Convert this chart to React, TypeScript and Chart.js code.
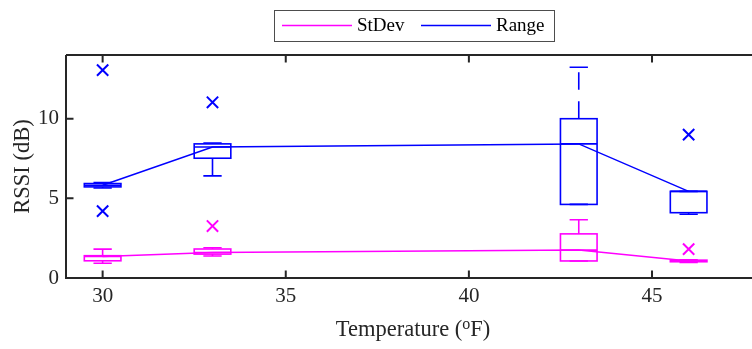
import React, { useEffect, useRef } from "react";
import { Chart, registerables } from "chart.js";

Chart.register(...registerables);

// ---- data ----
const temperatures = [30, 33, 43, 46];
const xTicks = [30, 35, 40, 45];
const yTicks = [0, 5, 10];

const stdevWhiskerLow = [0.93, 1.38, 1.07, 0.98];
const stdevQ1 = [1.08, 1.5, 1.07, 1.02];
const stdevMedian = [1.35, 1.6, 1.75, 1.06];
const stdevQ3 = [1.4, 1.82, 2.77, 1.12];
const stdevWhiskerHigh = [1.81, 1.9, 3.66, 1.15];
const stdevOutlierX = [33, 46];
const stdevOutlierY = [3.26, 1.81];

const rangeWhiskerLow = [5.65, 6.41, 4.62, 4.0];
const rangeQ1 = [5.72, 7.52, 4.62, 4.1];
const rangeMedian = [5.82, 8.22, 8.42, 5.44];
const rangeQ3 = [5.93, 8.42, 10.0, 5.44];
const rangeWhiskerHigh = [6.0, 8.48, 13.23, 5.44];
const rangeOutlierX = [30, 30, 33, 46];
const rangeOutlierY = [13.05, 4.2, 11.03, 9.0];

const seriesNames = ["StDev", "Range"];
const xTitleParts = ["Temperature (", "o", "F)"];
const yTitle = "RSSI (dB)";
const MAGENTA = "#ff00ff";
const BLUE = "#0000ff";
const AXIS = "#262626";
const FONT = "'Liberation Serif', 'Times New Roman', serif";

const boxSeries = [
  { color: MAGENTA, wl: stdevWhiskerLow, q1: stdevQ1, med: stdevMedian, q3: stdevQ3, wh: stdevWhiskerHigh },
  { color: BLUE, wl: rangeWhiskerLow, q1: rangeQ1, med: rangeMedian, q3: rangeQ3, wh: rangeWhiskerHigh },
];

const boxPlugin = {
  id: "boxes",
  beforeDatasetsDraw(chart: any) {
    const { ctx, scales } = chart;
    const xs = scales.x;
    const ys = scales.y;
    ctx.save();
    for (const s of boxSeries) {
      ctx.strokeStyle = s.color;
      ctx.lineWidth = 1.6;
      temperatures.forEach((t, i) => {
        const x = xs.getPixelForValue(t);
        const xl = xs.getPixelForValue(t - 0.5);
        const xr = xs.getPixelForValue(t + 0.5);
        const cl = xs.getPixelForValue(t - 0.25);
        const cr = xs.getPixelForValue(t + 0.25);
        const yq1 = ys.getPixelForValue(s.q1[i]);
        const yq3 = ys.getPixelForValue(s.q3[i]);
        const ym = ys.getPixelForValue(s.med[i]);
        const ywl = ys.getPixelForValue(s.wl[i]);
        const ywh = ys.getPixelForValue(s.wh[i]);
        ctx.setLineDash([]);
        ctx.strokeRect(xl, yq3, xr - xl, yq1 - yq3);
        ctx.beginPath();
        ctx.moveTo(xl, ym);
        ctx.lineTo(xr, ym);
        ctx.stroke();
        // whiskers (dashed, from box outward)
        ctx.setLineDash([17.5, 11.5]);
        ctx.beginPath();
        ctx.moveTo(x, yq3);
        ctx.lineTo(x, ywh);
        ctx.moveTo(x, yq1);
        ctx.lineTo(x, ywl);
        ctx.stroke();
        ctx.setLineDash([]);
        ctx.beginPath();
        ctx.moveTo(cl, ywh);
        ctx.lineTo(cr, ywh);
        ctx.moveTo(cl, ywl);
        ctx.lineTo(cr, ywl);
        ctx.stroke();
      });
    }
    ctx.restore();
  },
};

const framePlugin = {
  id: "frame",
  afterDraw(chart: any) {
    const { ctx, chartArea, scales } = chart;
    const { left, right, top, bottom } = chartArea;
    ctx.save();
    ctx.strokeStyle = AXIS;
    ctx.lineWidth = 2;
    ctx.beginPath();
    ctx.moveTo(left, top);
    ctx.lineTo(left, bottom);
    ctx.lineTo(right, bottom);
    ctx.moveTo(left, top);
    ctx.lineTo(right, top);
    const tl = 7.5;
    for (const v of xTicks) {
      const px = scales.x.getPixelForValue(v);
      ctx.moveTo(px, bottom);
      ctx.lineTo(px, bottom - tl);
      ctx.moveTo(px, top);
      ctx.lineTo(px, top + tl);
    }
    for (const v of yTicks) {
      const py = scales.y.getPixelForValue(v);
      ctx.moveTo(left, py);
      ctx.lineTo(left + tl, py);
    }
    ctx.stroke();

    // x axis title with superscript
    const cx = (left + right) / 2 + 4;
    const by = 336;
    const big = `22.5px ${FONT}`;
    const small = `16px ${FONT}`;
    ctx.fillStyle = AXIS;
    ctx.textBaseline = "alphabetic";
    ctx.textAlign = "left";
    ctx.font = big;
    const w0 = ctx.measureText(xTitleParts[0]).width;
    const w2 = ctx.measureText(xTitleParts[2]).width;
    ctx.font = small;
    const w1 = ctx.measureText(xTitleParts[1]).width;
    let sx = cx - (w0 + w1 + w2) / 2;
    ctx.font = big;
    ctx.fillText(xTitleParts[0], sx, by);
    sx += w0;
    ctx.font = small;
    ctx.fillText(xTitleParts[1], sx, by - 7.5);
    sx += w1;
    ctx.font = big;
    ctx.fillText(xTitleParts[2], sx, by);

    // legend
    ctx.lineWidth = 1;
    ctx.strokeStyle = "#4d4d4d";
    ctx.fillStyle = "#ffffff";
    ctx.fillRect(274.5, 10.5, 280, 31);
    ctx.strokeRect(274.5, 10.5, 280, 31);
    const items = [
      { label: seriesNames[0], color: MAGENTA, x0: 282 },
      { label: seriesNames[1], color: BLUE, x0: 421 },
    ];
    ctx.font = `19px ${FONT}`;
    ctx.textBaseline = "middle";
    ctx.textAlign = "left";
    for (const it of items) {
      ctx.strokeStyle = it.color;
      ctx.lineWidth = 1.5;
      ctx.beginPath();
      ctx.moveTo(it.x0, 25.5);
      ctx.lineTo(it.x0 + 70, 25.5);
      ctx.stroke();
      ctx.fillStyle = "#000000";
      ctx.fillText(it.label, it.x0 + 75, 26);
    }
    ctx.restore();
  },
};

export default function App() {
  const ref = useRef<HTMLCanvasElement | null>(null);
  useEffect(() => {
    if (!ref.current) return;
    const chart = new Chart(ref.current, {
      type: "scatter",
      data: {
        datasets: [
          {
            label: seriesNames[0],
            data: temperatures.map((t, i) => ({ x: t, y: stdevMedian[i] })),
            showLine: true,
            borderColor: MAGENTA,
            borderWidth: 1.5,
            pointRadius: 0,
          },
          {
            label: seriesNames[1],
            data: temperatures.map((t, i) => ({ x: t, y: rangeMedian[i] })),
            showLine: true,
            borderColor: BLUE,
            borderWidth: 1.5,
            pointRadius: 0,
          },
          {
            label: "StDev outliers",
            data: stdevOutlierX.map((x, i) => ({ x, y: stdevOutlierY[i] })),
            pointStyle: "crossRot",
            pointRadius: 8,
            borderColor: MAGENTA,
            borderWidth: 2,
            showLine: false,
          },
          {
            label: "Range outliers",
            data: rangeOutlierX.map((x, i) => ({ x, y: rangeOutlierY[i] })),
            pointStyle: "crossRot",
            pointRadius: 8,
            borderColor: BLUE,
            borderWidth: 2,
            showLine: false,
          },
        ],
      },
      options: {
        responsive: false,
        animation: false,
        layout: { autoPadding: false, padding: { top: 55, left: 0, right: 0, bottom: 0 } },
        plugins: { legend: { display: false }, tooltip: { enabled: false } },
        scales: {
          x: {
            type: "linear",
            min: 29,
            max: 47.73,
            afterBuildTicks: (s: any) => {
              s.ticks = xTicks.map((v) => ({ value: v }));
            },
            afterFit: (s: any) => {
              s.height = 71;
              s.paddingLeft = 0;
              s.paddingRight = 0;
            },
            grid: { display: false, drawTicks: false },
            border: { display: false },
            ticks: {
              padding: 6,
              color: AXIS,
              font: { family: FONT, size: 21 },
              maxRotation: 0,
              autoSkip: false,
            },
            title: { display: false },
          },
          y: {
            type: "linear",
            min: 0,
            max: 14,
            afterBuildTicks: (s: any) => {
              s.ticks = yTicks.map((v) => ({ value: v }));
            },
            afterFit: (s: any) => {
              s.width = 66;
              s.paddingTop = 0;
              s.paddingBottom = 0;
            },
            grid: { display: false, drawTicks: false },
            border: { display: false },
            ticks: {
              padding: 7,
              color: AXIS,
              font: { family: FONT, size: 21 },
            },
            title: {
              display: true,
              text: yTitle,
              color: AXIS,
              font: { family: FONT, size: 22.5 },
              padding: { top: 10, bottom: 0 },
            },
          },
        },
      },
      plugins: [boxPlugin, framePlugin],
    } as any);
    return () => chart.destroy();
  }, []);
  return (
    <div style={{ position: "absolute", left: 0, top: 0, width: 752, height: 349, background: "#fff" }}>
      <canvas ref={ref} width={752} height={349} />
    </div>
  );
}
